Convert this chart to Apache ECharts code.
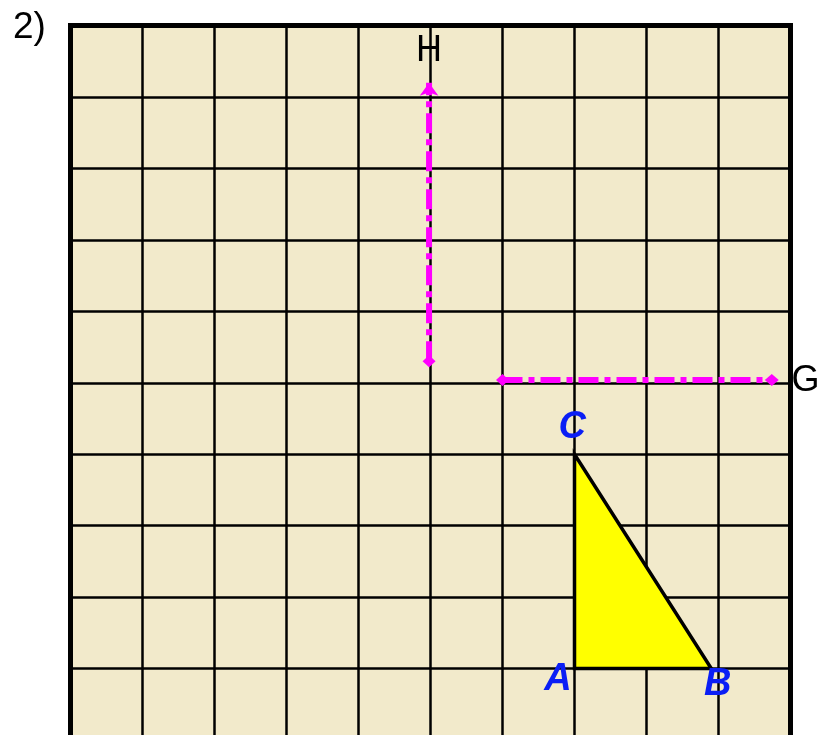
<!DOCTYPE html>
<html>
<head>
<meta charset="UTF-8">
<script type="text/javascript" src="https://cdn.jsdelivr.net/npm/echarts@6/dist/echarts.min.js"></script>
<title>Grid</title>
<style>body{margin:0;background:#fff;}</style>
</head>
<body>
	<div id="main" style="width:819px;height:735px;"></div>
	<script type="text/javascript">
		// grid extent (squares)
		var xRange = [0, 10];
		var yRange = [0, 10];

		// triangle ABC
		var triangle = [[7, 1], [8.9, 1], [7, 4]];

		// dash-dot arrows
		var lineH = [[4.98, 5.3], [4.98, 9.2]];
		var lineG = [[6, 5.04], [9.74, 5.04]];

		// point labels
		var blackNames = ['H', 'G'];
		var blackPos = [[4.98, 9.64], [10.21, 5.02]];
		var blueNames = ['C', 'A', 'B'];
		var bluePos = [[6.97, 4.37], [6.77, 0.85], [8.99, 0.77]];

		var myChart = echarts.init(document.getElementById("main"));

		function labelData(names, pos){
			var out = [];
			for(var i = 0;i < names.length;i++){
				out.push({name:names[i], value:pos[i]});
			}
			return out;
		}

		var axisCommon = {
			type:'value',
			interval:1,
			axisLine:{show:false},
			axisTick:{show:false},
			axisLabel:{show:false},
			splitLine:{show:true,lineStyle:{color:'#000',width:2.5}}
		};

		var option = {
			animation:false,
			title:{
				text:'2)',
				left:8,
				top:4,
				textStyle:{fontFamily:'Liberation Sans',fontSize:37,fontWeight:'normal',color:'#000'}
			},
			grid:{
				left:70.5,
				top:25.5,
				width:720,
				height:714.5,
				outerBoundsMode:'none',
				containLabel:false,
				show:true,
				backgroundColor:'#F2EACB',
				borderColor:'#000',
				borderWidth:5
			},
			xAxis:Object.assign({min:xRange[0],max:xRange[1]}, axisCommon),
			yAxis:Object.assign({min:yRange[0],max:yRange[1]}, axisCommon),
			series:[
				{
					type:'custom',
					data:[0],
					renderItem:function(params, api){
						var pts = triangle.map(function(p){ return api.coord(p); });
						return {
							type:'polygon',
							shape:{points:pts},
							style:{fill:'#FFFF00',stroke:'#000',lineWidth:3.5,lineJoin:'miter'}
						};
					}
				},
				{
					type:'line',
					clip:false,
					lineStyle:{color:'#FF00FF',width:6,type:[20,6,6,6]},
					itemStyle:{color:'#FF00FF'},
					showAllSymbol:true,
					data:[
						{value:lineH[0],symbol:'diamond',symbolSize:[13,12]},
						{value:lineH[1],symbol:'arrow',symbolSize:[14,13]}
					]
				},
				{
					type:'line',
					clip:false,
					lineStyle:{color:'#FF00FF',width:6,type:[20,6,6,6]},
					itemStyle:{color:'#FF00FF'},
					showAllSymbol:true,
					data:[
						{value:lineG[0],symbol:'diamond',symbolSize:[13,12]},
						{value:lineG[1],symbol:'diamond',symbolSize:[14,12]}
					]
				},
				{
					type:'scatter',
					clip:false,
					symbolSize:0,
					itemStyle:{opacity:1},
					label:{
						show:true,
						position:'inside',
						formatter:'{b}',
						fontFamily:'Liberation Sans',
						fontSize:36,
						color:'#000'
					},
					data:labelData(blackNames, blackPos)
				},
				{
					type:'scatter',
					clip:false,
					symbolSize:0,
					itemStyle:{opacity:1},
					label:{
						show:true,
						position:'inside',
						formatter:'{b}',
						fontFamily:'Liberation Sans',
						fontStyle:'italic',
						fontWeight:'bold',
						fontSize:38,
						color:'#0A1EF5'
					},
					data:labelData(blueNames, bluePos)
				}
			]
		};
		myChart.setOption(option);
	</script>
</body>
</html>
